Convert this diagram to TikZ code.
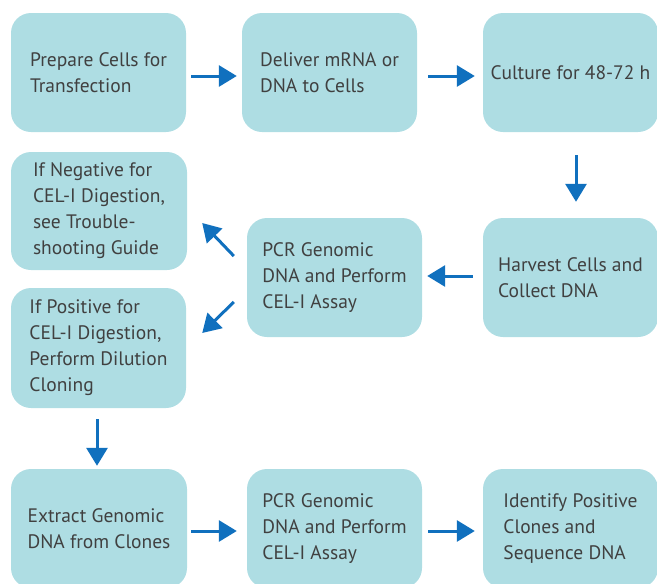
\documentclass[tikz,border=0pt]{standalone}
\usepackage{fontspec}
\setmainfont{PT Sans}
\usetikzlibrary{arrows.meta}
\definecolor{boxfill}{RGB}{174,221,227}
\definecolor{arrblue}{RGB}{16,112,190}
\definecolor{txt}{RGB}{64,64,64}
\tikzset{
  stepbox/.style={fill=boxfill, rounded corners=20pt, minimum width=175pt, minimum height=119pt, inner sep=0pt, align=left, text=txt, font=\fontsize{19.5}{26}\selectfont},
  arr/.style={draw=arrblue, line width=3pt, -{Triangle[length=18pt,width=21pt]}}
}
\begin{document}
\begin{tikzpicture}[x=1pt,y=-1pt]
\useasboundingbox (0,0) rectangle (657,584);
\begin{scope}
\clip (0,0) rectangle (657,584);
\node[stepbox] (b1) at (98.5,72.5) {Prepare Cells for\\Transfection};
\node[stepbox] (b2) at (329.5,72.5) {Deliver mRNA or\\DNA to Cells};
\node[stepbox] (b3) at (570.5,72.5) {Culture for 48-72 h};
\node[stepbox, minimum width=176pt, minimum height=118pt] (neg) at (99,211) {If Negative for\\CEL-I Digestion,\\see Trouble-\\shooting Guide};
\node[stepbox] (pcr1) at (334.5,277.5) {PCR Genomic\\DNA and Perform\\CEL-I Assay};
\node[stepbox] (harv) at (570.5,277.5) {Harvest Cells and\\Collect DNA};
\node[stepbox, minimum height=120pt] (pos) at (98.5,348) {If Positive for\\CEL-I Digestion,\\Perform Dilution\\Cloning};
\node[stepbox, minimum width=176pt] (ext) at (99,528.5) {Extract Genomic\\DNA from Clones};
\node[stepbox] (pcr2) at (334.5,528.5) {PCR Genomic\\DNA and Perform\\CEL-I Assay};
\node[stepbox] (ident) at (570.5,528.5) {Identify Positive\\Clones and\\Sequence DNA};
\end{scope}
\draw[arr] ([xshift=5pt,yshift=-3.5pt]b1.east) -- ([xshift=-5pt,yshift=-3.5pt]b2.west);
\draw[arr] ([xshift=11pt,yshift=-3.5pt]b2.east) -- ([xshift=-8pt,yshift=-3.5pt]b3.west);
\draw[arr] ([xshift=5.5pt,yshift=-23pt]b3.south) -- ([xshift=5.5pt,yshift=16pt]harv.north);
\draw[arr] ([xshift=-10pt,yshift=1.5pt]harv.west) -- ([xshift=5pt,yshift=1.5pt]pcr1.east);
\draw[arr] ([xshift=-13pt,yshift=21.5pt]pcr1.west) -- ([xshift=15pt,yshift=-12pt]neg.east);
\draw[arr] ([xshift=-13pt,yshift=-24.5pt]pcr1.west) -- ([xshift=16pt,yshift=15pt]pos.east);
\draw[arr] ([xshift=-1.5pt,yshift=-11pt]pos.south) -- ([xshift=-2pt,yshift=3pt]ext.north);
\draw[arr] ([xshift=4pt,yshift=-2.5pt]ext.east) -- ([xshift=-10pt,yshift=-2.5pt]pcr2.west);
\draw[arr] ([xshift=6pt,yshift=-2.5pt]pcr2.east) -- ([xshift=-8pt,yshift=-2.5pt]ident.west);
\end{tikzpicture}
\end{document}
